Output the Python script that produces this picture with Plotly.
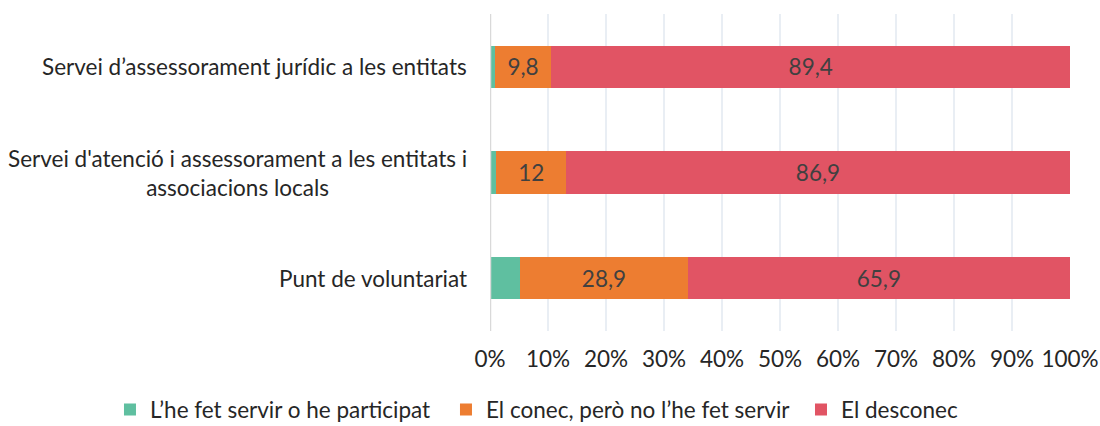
import plotly.graph_objects as go

categories = [
    "Servei d’assessorament jurídic a les entitats",
    "Servei d'atenció i assessorament a les entitats i<br>associacions locals",
    "Punt de voluntariat",
]
series_names = [
    "L’he fet servir o he participat",
    "El conec, però no l’he fet servir",
    "El desconec",
]
used = [0.8, 1.1, 5.2]
known = [9.8, 12, 28.9]
unknown = [89.4, 86.9, 65.9]
colors = ["#5FBFA0", "#ED7D31", "#E15464"]
tick_vals = [0, 10, 20, 30, 40, 50, 60, 70, 80, 90, 100]
tick_text = [f"{v}%" for v in tick_vals]

FONT = "Lato"
FS = 22.5
TXT = "#262626"
legend_ids = ["legend", "legend2", "legend3"]
legend_x = [-0.6552, -0.0759, 0.5362]

fig = go.Figure()
for name, vals, col, show, lg in zip(series_names, [used, known, unknown], colors,
                                     [False, True, True], legend_ids):
    fig.add_trace(go.Bar(
        y=categories, x=vals, name=name, orientation="h",
        marker=dict(color=col, line=dict(width=0)),
        text=[str(v).replace(".", ",") for v in vals] if show else None,
        textposition="inside" if show else "none",
        insidetextanchor="middle",
        textangle=0,
        textfont=dict(color="#404040", size=FS, family=FONT),
        hoverinfo="x+name",
        legend=lg,
    ))

for c in categories:
    fig.add_annotation(
        x=0, xref="paper", y=c, yref="y", text=c, showarrow=False,
        xanchor="right", xshift=-21, align="center",
        font=dict(size=FS, color=TXT, family=FONT),
    )

legend_common = dict(
    orientation="h", xref="paper", xanchor="left",
    y=-0.249, yref="paper", yanchor="middle",
    font=dict(size=FS, color=TXT, family=FONT),
    itemwidth=30, bgcolor="rgba(0,0,0,0)",
)

fig.update_layout(
    barmode="stack",
    bargap=0.6,
    width=1100, height=426,
    margin=dict(l=490, r=30, t=14, b=95, autoexpand=False),
    plot_bgcolor="white", paper_bgcolor="white",
    font=dict(family=FONT, size=FS, color=TXT),
    showlegend=True,
    legend=dict(x=legend_x[0], **legend_common),
    legend2=dict(x=legend_x[1], **legend_common),
    legend3=dict(x=legend_x[2], **legend_common),
    xaxis=dict(
        range=[0, 100], tickvals=tick_vals, ticktext=tick_text,
        showgrid=True, gridcolor="#E9EEF4", gridwidth=1.5,
        zeroline=False, showline=False, ticks="",
        ticklabelstandoff=12, automargin=False,
        tickfont=dict(size=FS, color=TXT, family=FONT),
    ),
    yaxis=dict(
        autorange="reversed", showticklabels=False, ticks="",
        showgrid=False, zeroline=False, showline=False, automargin=False,
    ),
)
fig.add_shape(type="line", xref="x", yref="paper", x0=0, x1=0, y0=0, y1=1,
              line=dict(color="#D9D9D9", width=2.5))

fig.write_html("out.html", config={"displayModeBar": False},
               post_script="document.body.style.margin='0';")
